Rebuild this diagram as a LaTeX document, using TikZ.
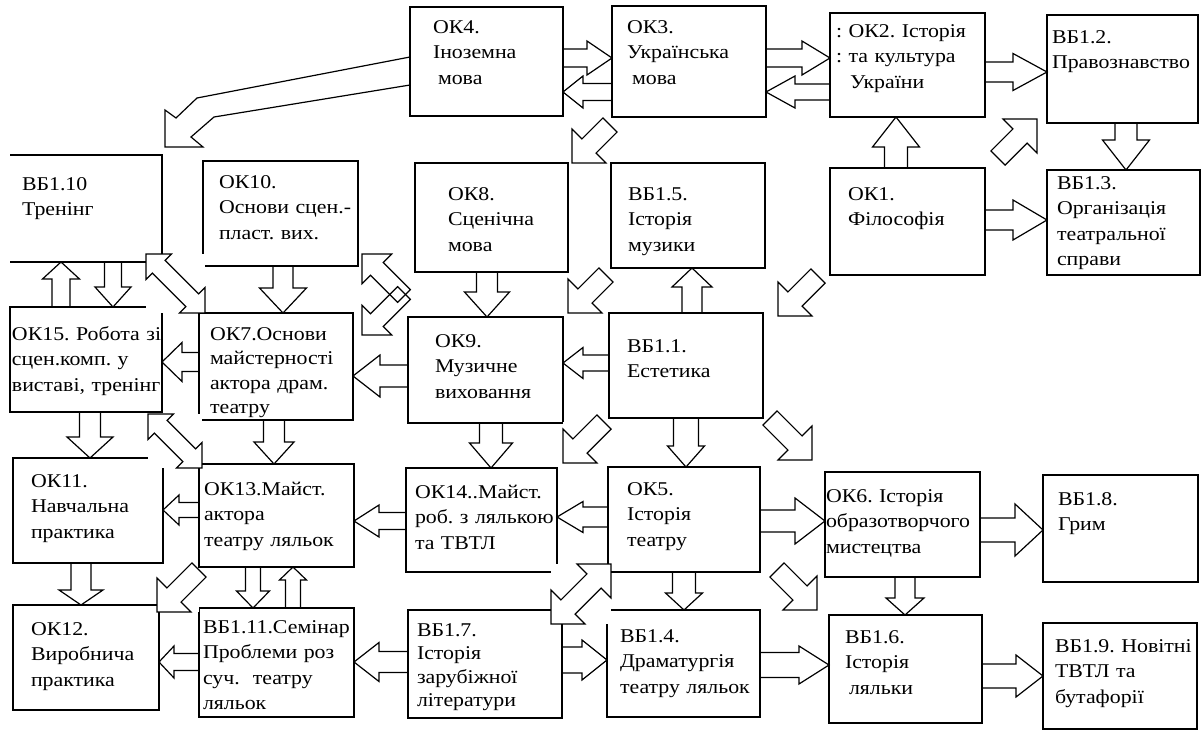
\documentclass[tikz,border=0pt]{standalone}
\usepackage{fontspec}
\setmainfont[FakeStretch=1.12]{Liberation Serif}
\usetikzlibrary{calc}

\begin{document}
\begin{tikzpicture}[
    x=1pt, y=-1pt,
    line width=1.2pt,
    box/.style n args={4}{draw, anchor=north west, align=left,
      outer sep=0pt, inner ysep=0pt, inner xsep=#2pt, text width=#1pt,
      text height=#3pt, text depth=#4pt,
      font=\fontsize{19.5}{25.5}\selectfont},
    blk/.style n args={3}{to path={
      let \p1=(\tikztostart), \p2=(\tikztotarget),
          \n1={atan2(\y2-\y1,\x2-\x1)}, \n2={veclen(\x2-\x1,\y2-\y1)} in
      [shift={(\p1)}, rotate=\n1]
      (0pt,#1pt) -- ({\n2*1pt-#3pt},#1pt) -- ({\n2*1pt-#3pt},#2pt)
      -- ({\n2*1pt},0pt) -- ({\n2*1pt-#3pt},-#2pt) -- ({\n2*1pt-#3pt},-#1pt)
      -- (0pt,-#1pt) -- cycle}},
    dblk/.style n args={3}{to path={
      let \p1=(\tikztostart), \p2=(\tikztotarget),
          \n1={atan2(\y2-\y1,\x2-\x1)}, \n2={veclen(\x2-\x1,\y2-\y1)} in
      [shift={(\p1)}, rotate=\n1]
      (0pt,0pt) -- (#3pt,#2pt) -- (#3pt,#1pt) -- ({\n2*1pt-#3pt},#1pt)
      -- ({\n2*1pt-#3pt},#2pt) -- ({\n2*1pt},0pt) -- ({\n2*1pt-#3pt},-#2pt)
      -- ({\n2*1pt-#3pt},-#1pt) -- (#3pt,-#1pt) -- (#3pt,-#2pt) -- cycle}},
  ]
\useasboundingbox (0,0) rectangle (1203,731);

\node[box={107}{23}{26}{83}] (ok4) at (410,7)
    {ОК4.\\ Іноземна\\ \hspace*{5pt}мова};
\node[box={124}{15}{27}{84}] (ok3) at (612,6)
    {ОК3.\\ Українська\\ \hspace*{5pt}мова};
\node[box={143}{6}{24}{80}] (ok2) at (830,13)
    {:~ОК2.~Історія\\ :~та~культура\\ \hspace*{14pt}України};
\node[box={141}{5}{28}{80}] (vb12) at (1047,15)
    {ВБ1.2.\\ Правознавство};

\node[box={128}{12}{35}{72}, draw=none] (vb110) at (10,155)
    {ВБ1.10\\ Тренінг};
\node[box={123}{16}{27}{78}] (ok10) at (203,161)
    {ОК10.\\ \mbox{Основи~сцен.-}\\ пласт.~вих.};
\node[box={87}{33}{37}{72}] (ok8) at (415,163)
    {ОК8.\\ Сценічна\\ мова};
\node[box={120}{17}{37}{68}] (vb15) at (611,163)
    {ВБ1.5.\\ Історія\\ музики};
\node[box={119}{18}{32}{75}] (ok1) at (830,168)
    {ОК1.\\ Філософія};
\node[box={133}{10}{19}{86}] (vb13) at (1047,170)
    {ВБ1.3.\\ Організація\\ театральної\\ справи};

\node[box={148}{2}{33}{72}] (ok15) at (10,307)
    {ОК15.~Робота~зі\\ сцен.комп.~у\\ виставі,~тренінг};
\node[box={132}{11}{27}{80}, font=\fontsize{19.5}{24.5}\selectfont] (ok7) at (199,313)
    {ОК7.Основи\\ майстерності\\ актора~драм.\\ театру};
\node[box={101}{27}{30}{76}] (ok9) at (408,317)
    {ОК9.\\ Музичне\\ виховання};
\node[box={118}{18}{39}{66}] (vb11) at (609,313)
    {ВБ1.1.\\ Естетика};

\node[box={114}{18}{29}{76}] (ok11) at (13,458)
    {ОК11.\\ Навчальна\\ практика};
\node[box={145}{5}{31}{72}] (ok13) at (199,464)
    {ОК13.Майст.\\ актора\\ театру~ляльок};
\node[box={133}{9}{30}{74}] (ok14) at (406,468)
    {ОК14..Майст.\\ роб.~з~лялькою\\ та~ТВТЛ};
\node[box={114}{19}{28}{77}] (ok5) at (608,467)
    {ОК5.\\ Історія\\ театру};
\node[box={153}{1}{30}{75}] (ok6) at (825,472)
    {ОК6.~Історія\\ образотворчого\\ мистецтва};
\node[box={125}{15}{30}{77}] (vb18) at (1043,475)
    {ВБ1.8.\\ Грим};

\node[box={110}{18}{30}{75}] (ok12) at (13,605)
    {ОК12.\\ Виробнича\\ практика};
\node[box={147}{4}{25}{84}] (vb111) at (199,608)
    {ВБ1.11.Семінар\\ Проблеми~роз\\ суч.~~театру\\ ляльок};
\node[box={136}{9}{26}{82}, font=\fontsize{19.5}{23.5}\selectfont] (vb17) at (408,610)
    {ВБ1.7.\\ Історія\\ зарубіжної\\ літератури};
\node[box={127}{13}{32}{75}] (vb14) at (607,610)
    {ВБ1.4.\\ Драматургія\\ театру~ляльок};
\node[box={121}{16}{28}{80}] (vb16) at (829,615)
    {ВБ1.6.\\ Історія\\ \hspace*{4pt}ляльки};
\node[box={130}{12}{29}{77}] (vb19) at (1043,623)
    {ВБ1.9.~Новітні\\ ТВТЛ~та\\ бутафорії};

\draw (vb110.north west) -- (vb110.north east) -- (vb110.south east)
    -- (vb110.south west);

\coordinate (d1a) at ([shift={(-2,8)}]ok3.south west);
\coordinate (d1b) at ([shift={(4,0)}]ok8.north east);
\coordinate (d2a) at ([shift={(13,-10)}]ok1.north east);
\coordinate (d2b) at ([shift={(-10,-4)}]vb12.south west);
\coordinate (d3a) at ([shift={(-5,7)}]vb15.south west);
\coordinate (d3b) at ([shift={(5,-4)}]ok9.north east);
\coordinate (d4a) at ([shift={(-12,1)}]ok1.south west);
\coordinate (d4b) at ([shift={(15,3)}]vb11.north east);
\coordinate (d5a) at ([shift={(-5,4)}]vb11.south west);
\coordinate (d5b) at ([shift={(6,-5)}]ok14.north east);
\coordinate (d6a) at ([shift={(7,0)}]vb11.south east);
\coordinate (d6b) at ([shift={(-13,-12)}]ok6.north west);
\coordinate (d7a) at ([shift={(17,-2)}]ok5.south east);
\coordinate (d7b) at ([shift={(-12,-5)}]vb16.north west);
\coordinate (d8a) at ([shift={(0,3)}]ok13.south west);
\coordinate (d8b) at ([shift={(-2,7)}]ok12.north east);
\coordinate (d9a) at ([shift={(-16,-8)}]vb110.south east);
\coordinate (d9b) at ([shift={(6,0)}]ok7.north west);
\coordinate (d10a) at ([shift={(-14,2)}]ok15.south east);
\coordinate (d10b) at ([shift={(3,4)}]ok13.north west);
\coordinate (d11a) at ([shift={(-11,14)}]vb17.north east);
\coordinate (d11b) at ([shift={(3,-8)}]ok5.south west);
\coordinate (d12a) at ([shift={(-4,-21)}]ok9.north west);
\coordinate (d12b) at ([shift={(4,-12)}]ok10.south east);
\coordinate (d13a) at ([shift={(-11,21)}]ok8.south west);
\coordinate (d13b) at ([shift={(9,22)}]ok7.north east);

\foreach \s/\e in {d1a/d1b, d2a/d2b, d3a/d3b, d4a/d4b, d5a/d5b, d6a/d6b,
    d7a/d7b, d8a/d8b, d9a/d9b, d10a/d10b, d11a/d11b, d12a/d12b, d13a/d13b}
  \fill[white] (\s) rectangle (\e);

\foreach \s/\e in {d1a/d1b, d2a/d2b, d3a/d3b, d4a/d4b, d5a/d5b, d6a/d6b,
    d7a/d7b, d8a/d8b}
  \draw[blk={10}{24}{24}] (\s) to (\e);
\draw[blk={9}{21}{21}] (d12a) to (d12b);
\draw[blk={9}{21}{21}] (d13a) to (d13b);
\draw[dblk={9}{18}{18}] (d9a) to (d9b);
\draw[dblk={9}{18}{18}] (d10a) to (d10b);
\draw[dblk={10}{24}{24}] (d11a) to (d11b);

\draw (ok4.west |- 0,57) -- (197,98) -- (176,118) -- (165,110)
    -- ([shift={(3,-8)}]vb110.north east) -- (203,147) -- (191,137)
    -- (214,117) -- (ok4.west |- 0,85);

\draw[blk={9}{17}{25}] (ok4.east |- 0,58) to (ok3.west |- 0,58);
\draw[blk={8.5}{16}{20}] (ok3.west |- 0,92) to (ok4.east |- 0,92);
\draw[blk={9}{17}{28}] (ok3.east |- 0,58) to (ok2.west |- 0,58);
\draw[blk={8}{16}{29}] (ok2.west |- 0,92) to (ok3.east |- 0,92);
\draw[blk={10}{18.5}{34}] (ok2.east |- 0,72) to (vb12.west |- 0,72);
\draw[blk={10}{20}{34}] (ok1.east |- 0,220) to (vb13.west |- 0,220);
\draw[blk={8}{15.5}{20}] (vb11.west |- 0,363) to (ok9.east |- 0,363);
\draw[blk={11}{21}{27}] (ok9.west |- 0,376) to (ok7.east |- 0,376);
\draw[blk={9.5}{19.5}{20}] (ok7.west |- 0,362) to (ok15.east |- 0,362);
\draw[blk={7.5}{15}{16}] (ok13.west |- 0,510) to (ok11.east |- 0,510);
\draw[blk={8.5}{16}{25}] (ok14.west |- 0,521) to (ok13.east |- 0,521);
\draw[blk={10}{15.5}{26}] (ok5.west |- 0,517) to (ok14.east |- 0,517);
\draw[blk={11}{23}{30}] (ok5.east |- 0,521) to (ok6.west |- 0,521);
\draw[blk={12}{26}{28}] (ok6.east |- 0,530) to (vb18.west |- 0,530);
\draw[blk={8.5}{16}{15}] (vb111.west |- 0,662) to (ok12.east |- 0,662);
\draw[blk={10.5}{19.5}{25}] (vb17.west |- 0,662) to (vb111.east |- 0,662);
\draw[blk={13}{20}{25}] (vb17.east |- 0,660) to (vb14.west |- 0,660);
\draw[blk={12.5}{19}{30}] (vb14.east |- 0,665) to (vb16.west |- 0,665);
\draw[blk={12}{21}{27}] (vb16.east |- 0,676) to (vb19.west |- 0,676);

\draw[blk={11}{23.5}{30}] (1126,0 |- vb12.south) to (1126,0 |- vb13.north);
\draw[blk={11.5}{23.5}{30}] (896,0 |- ok1.north) to (896,0 |- ok2.south);
\draw[blk={8.5}{18}{20}] (113,0 |- vb110.south) to (113,0 |- ok15.north);
\draw[blk={9}{18.5}{17}] (61,0 |- ok15.north) to (61,0 |- vb110.south);
\draw[blk={10}{23.5}{25}] (283,0 |- ok10.south) to (283,0 |- ok7.north);
\draw[blk={10.5}{22.5}{25}] (487,0 |- ok8.south) to (487,0 |- ok9.north);
\draw[blk={10}{20}{19}] (692,0 |- vb11.north) to (692,0 |- vb15.south);
\draw[blk={11.5}{21.5}{25}] (491,0 |- ok9.south) to (491,0 |- ok14.north);
\draw[blk={12.5}{18.5}{21}] (686,0 |- vb11.south) to (686,0 |- ok5.north);
\draw[blk={10.5}{23}{21}] (90,0 |- ok15.south) to (90,0 |- ok11.north);
\draw[blk={10.5}{20}{22}] (274,0 |- ok7.south) to (274,0 |- ok13.north);
\draw[blk={7.5}{16.5}{17}] (253,0 |- ok13.south) to (253,0 |- vb111.north);
\draw[blk={7.5}{13.5}{13}] (293,0 |- vb111.north) to (293,0 |- ok13.south);
\draw[blk={10}{22}{15}] (81,0 |- ok11.south) to (81,0 |- ok12.north);
\draw[blk={11.5}{18.5}{17}] (684,0 |- ok5.south) to (684,0 |- vb14.north);
\draw[blk={10}{19}{17}] (905,0 |- ok6.south) to (905,0 |- vb16.north);
\end{tikzpicture}
\end{document}
